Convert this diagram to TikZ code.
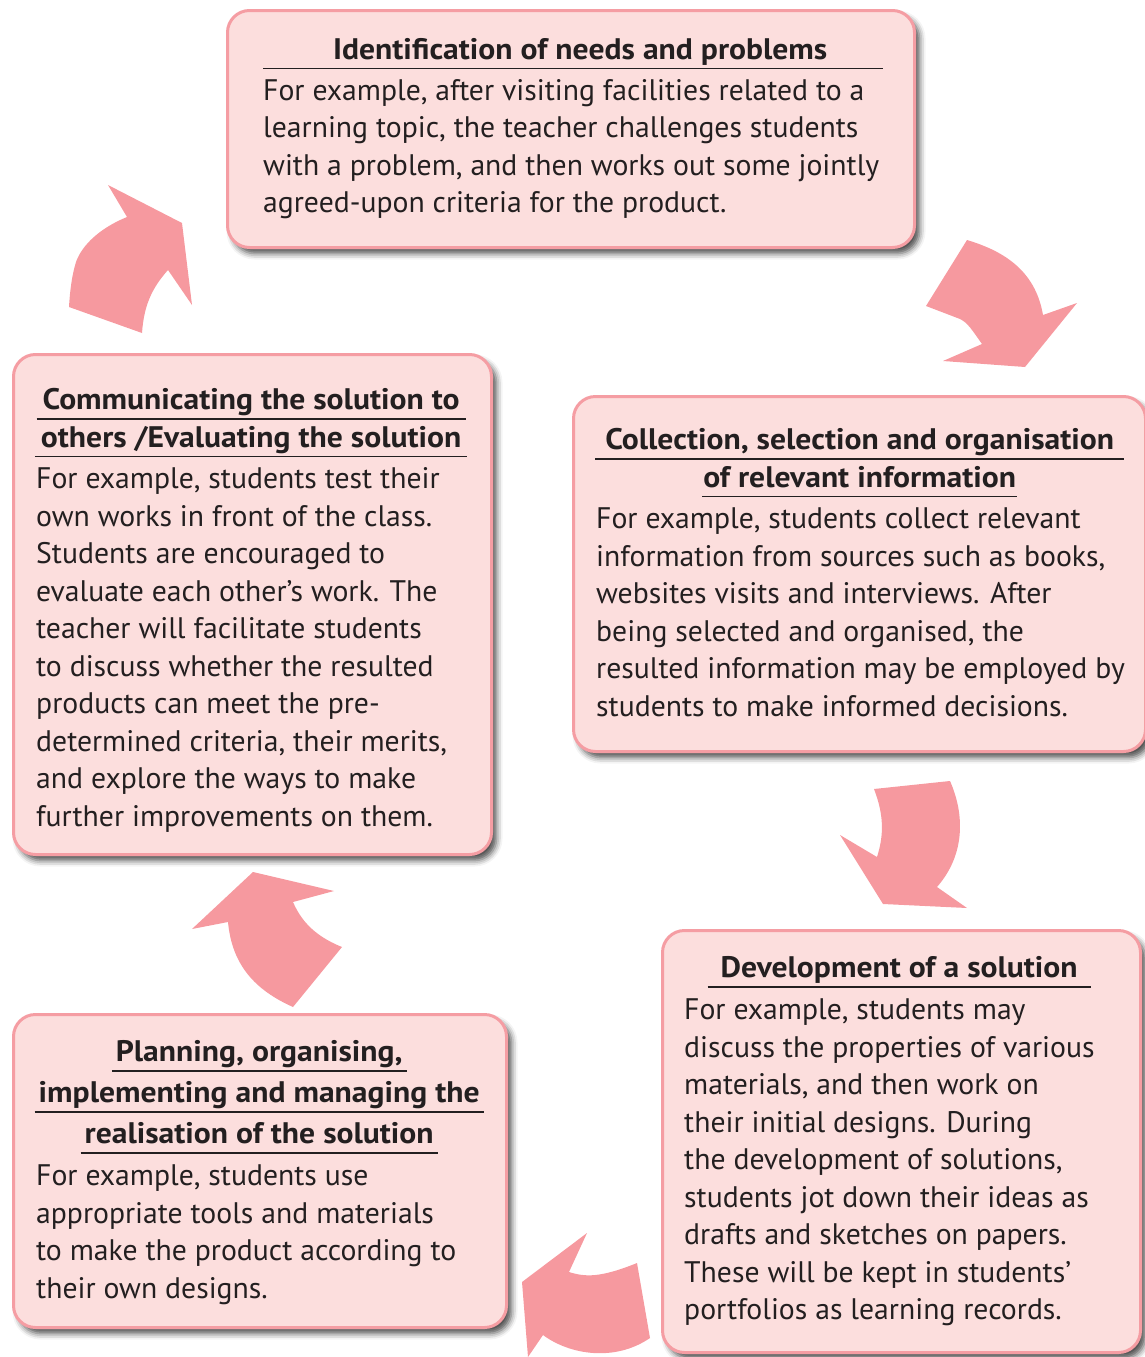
\documentclass[tikz,border=0pt]{standalone}
\usepackage{fontspec}
\setmainfont{PT Sans}[BoldFeatures={FakeStretch=1.065}]
\usetikzlibrary{shadows.blur}
\definecolor{boxfill}{HTML}{FCDEDD}
\definecolor{boxline}{HTML}{F59DA3}
\definecolor{arrowpink}{HTML}{F6999F}
\definecolor{ink}{HTML}{231F20}
\newsavebox\hulbox
\newlength\hulpad
\newcommand\hul[2][5pt]{\setlength\hulpad{#1}\sbox\hulbox{\textbf{#2}}\rlap{\hspace*{-\hulpad}\rule[-10pt]{\dimexpr\wd\hulbox+2\hulpad\relax}{1.5pt}}\usebox\hulbox}
\newcommand\hd[3][5pt]{\makebox[#2][c]{\hul[#1]{#3}}}
\newcommand\hdfull[2]{\rlap{\rule[-10pt]{#1}{1.5pt}}\makebox[#1][c]{\hspace*{14pt}\textbf{#2}}}
\newcommand\tstrut{\rule{0pt}{30pt}}
\begin{document}
\begin{tikzpicture}[x=1pt,y=-1pt,
  box/.style={draw=boxline, line width=3pt, fill=boxfill, rounded corners=22pt,
    anchor=north west, inner sep=0pt,
    blur shadow={shadow xshift=5pt, shadow yshift=-6pt, shadow blur radius=6pt, shadow opacity=70}},
  txt/.style={anchor=north west, inner sep=0pt, align=left, text=ink,
    font=\fontsize{29.7}{37.5}\selectfont},
  arrowshape/.style={fill=arrowpink}]
\useasboundingbox (0,0) rectangle (1145,1357);

% boxes
\node[box, minimum width=687pt, minimum height=237pt] (b1) at (226,9) {};
\node[box, minimum width=572pt, minimum height=355pt] (b2) at (572,395) {};
\node[box, minimum width=478pt, minimum height=500pt] (b3) at (12,353) {};
\node[box, minimum width=478pt, minimum height=422pt] (b4) at (661,929) {};
\node[box, minimum width=493pt, minimum height=313pt] (b5) at (12,1013) {};

% texts
\node[txt] (t1) at (263,29) {\tstrut\hdfull{620pt}{Identification of needs and problems}\\[3.5pt]
For example, after visiting facilities related to a\\
learning topic, the teacher challenges students\\
with a problem, and then works out some jointly\\
agreed-upon criteria for the product.};

\node[txt] (t2) at (596,419.5) {\tstrut\hd[10pt]{527pt}{Collection, selection and organisation}\\
\hd[1pt]{527pt}{of relevant information}\\[4pt]
For example, students collect relevant\\
information from sources such as books,\\
websites visits and interviews. After\\
being selected and organised, the\\
resulted information may be employed by\\
students to make informed decisions.};

\node[txt] (t3) at (36,379.5) {\tstrut\hd[6pt]{430pt}{Communicating the solution to}\\
\hd[6pt]{430pt}{others /Evaluating the solution}\\[4pt]
For example, students test their\\
own works in front of the class.\\
Students are encouraged to\\
evaluate each other's work. The\\
teacher will facilitate students\\
to discuss whether the resulted\\
products can meet the pre-\\
determined criteria, their merits,\\
and explore the ways to make\\
further improvements on them.};

\node[txt] (t4) at (684,947.5) {\tstrut\hd[13pt]{430pt}{Development of a solution}\\[4.5pt]
For example, students may\\
discuss the properties of various\\
materials, and then work on\\
their initial designs. During\\
the development of solutions,\\
students jot down their ideas as\\
drafts and sketches on papers.\\
These will be kept in students'\\
portfolios as learning records.};

\node[txt] (t5) at (36,1031.5) {\tstrut\hd[4pt]{446pt}{Planning, organising,}\\[3.5pt]
\hd[4pt]{446pt}{implementing and managing the}\\[3.5pt]
\hd[4pt]{446pt}{realisation of the solution}\\[4.5pt]
For example, students use\\
appropriate tools and materials\\
to make the product according to\\
their own designs.};

% arrows
\fill[arrowpink] (108,185) -- (127,217) .. controls (100,228) and (82,245) .. (76,262)
  .. controls (72,275) and (70,290) .. (69,307) -- (142,333)
  .. controls (144,305) and (152,288) .. (168,270) -- (192,305) -- (182,223) -- cycle;
\fill[arrowpink] (967,240) .. controls (1000,250) and (1035,268) .. (1043,315)
  -- (1077,303) -- (1025,367) -- (943,361) -- (982,344)
  .. controls (972,330) and (968,323) .. (960,319) -- (926,306) -- cycle;
\fill[arrowpink] (874,789) -- (950,781) .. controls (965,815) and (965,855) .. (937,887)
  -- (967,908) -- (883,904) -- (840,835) -- (877,857)
  .. controls (884,835) and (884,815) .. (874,789) -- cycle;
\fill[arrowpink] (253,872) -- (334,891) -- (293,902) .. controls (300,918) and (312,935) .. (342,947)
  -- (293,1007) .. controls (255,990) and (232,965) .. (228,922) -- (192,929) -- cycle;
\fill[arrowpink] (587,1233) -- (569,1272) .. controls (585,1277) and (600,1278) .. (637,1263)
  -- (650,1338) .. controls (615,1362) and (570,1355) .. (543,1335) -- (528,1357) -- (522,1282) -- cycle;
\end{tikzpicture}
\end{document}
